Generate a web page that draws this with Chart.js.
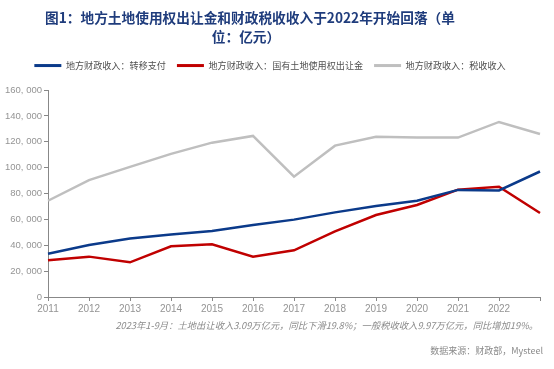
<!DOCTYPE html>
<html>
<head>
<meta charset="utf-8">
<script src="https://cdn.jsdelivr.net/npm/chart.js@4/dist/chart.umd.min.js"></script>
<style>
html,body{margin:0;padding:0;background:#fff;}
#wrap{width:554px;height:369px;position:relative;}
</style>
</head>
<body>
<div id="wrap"><canvas id="c" width="554" height="369"></canvas></div>
<script>
const years = ['2011','2012','2013','2014','2015','2016','2017','2018','2019','2020','2021','2022','2023'];
const tickLabels = ['2011','2012','2013','2014','2015','2016','2017','2018','2019','2020','2021','2022',''];
const transferPay = [33500, 40200, 45300, 48400, 51000, 55600, 59800, 65400, 70300, 74400, 82800, 82400, 97000];
const landSale = [28400, 31200, 26800, 39200, 40700, 31200, 36100, 50700, 63400, 71100, 83000, 85200, 64900];
const taxRevenue = [74400, 90400, 100600, 110600, 119300, 124500, 93000, 117000, 123900, 123200, 123200, 135300, 126000];
const seriesNames = ['地方财政收入：转移支付', '地方财政收入：国有土地使用权出让金', '地方财政收入：税收收入'];
const titleLines = ['图1：地方土地使用权出让金和财政税收收入于2022年开始回落（单', '位：亿元）'];
const noteText = '2023年1-9月：土地出让收入3.09万亿元，同比下滑19.8%；一般税收收入9.97万亿元，同比增加19%。';
const sourceText = '数据来源：财政部，Mysteel';

const CJK = '"Noto Sans CJK SC", "Noto Sans", sans-serif';

const legendFix = {
  id: 'legendFix',
  beforeInit(chart) {
    const lg = chart.legend;
    if (!lg) return;
    const f = lg.fit;
    lg.fit = function () { f.call(this); this.height = 40; };
  }
};

const textPlugin = {
  id: 'textPlugin',
  afterDraw(chart) {
    const ctx = chart.ctx;
    ctx.save();
    ctx.fillStyle = '#1F3C7C';
    ctx.font = 'bold 13.7px ' + CJK;
    ctx.textAlign = 'center';
    ctx.textBaseline = 'middle';
    ctx.fillText(titleLines[0], 250, 18);
    ctx.fillText(titleLines[1], 246, 37);
    ctx.fillStyle = '#8a8a8a';
    ctx.font = 'italic 9.3px ' + CJK;
    ctx.textAlign = 'right';
    ctx.fillText(noteText, 538, 325);
    ctx.font = '9px ' + CJK;
    ctx.fillStyle = '#8a8a8a';
    ctx.fillText(sourceText, 543, 351);
    ctx.restore();
  }
};

const defGen = Chart.defaults.plugins.legend.labels.generateLabels;

new Chart(document.getElementById('c'), {
  type: 'line',
  data: {
    labels: years,
    datasets: [
      { label: seriesNames[0], data: transferPay, borderColor: '#0B3A8A', backgroundColor: '#0B3A8A', borderWidth: 2.5, pointRadius: 0, tension: 0 },
      { label: seriesNames[1], data: landSale, borderColor: '#C00000', backgroundColor: '#C00000', borderWidth: 2.5, pointRadius: 0, tension: 0 },
      { label: seriesNames[2], data: taxRevenue, borderColor: '#BFBFBF', backgroundColor: '#BFBFBF', borderWidth: 2.5, pointRadius: 0, tension: 0 }
    ]
  },
  options: {
    responsive: false,
    animation: false,
    devicePixelRatio: 1,
    layout: { padding: { top: 50, left: 0, right: 14, bottom: 40 } },
    plugins: {
      title: { display: false },
      tooltip: { enabled: false },
      legend: {
        display: true,
        position: 'top',
        labels: {
          boxWidth: 27,
          boxHeight: 3,
          padding: 11,
          color: '#505050',
          font: { size: 9.1, family: CJK },
          generateLabels(chart) {
            return defGen(chart).map(l => Object.assign(l, { lineWidth: 0 }));
          }
        }
      }
    },
    scales: {
      x: {
        offset: false,
        afterFit(s) { s.height = 32; },
        grid: { display: true, drawOnChartArea: false, drawTicks: true, tickLength: 4, color: '#888' },
        border: { display: true, color: '#888', width: 1 },
        ticks: {
          autoSkip: false, maxRotation: 0, padding: 2, color: '#949494',
          font: { size: 10, family: '"Liberation Sans", Arial, sans-serif' },
          callback: (v, i) => tickLabels[i]
        }
      },
      y: {
        min: 0, max: 160000,
        afterFit(s) { s.width = 48; },
        grid: { display: true, drawOnChartArea: false, drawTicks: true, tickLength: 4, color: '#888' },
        border: { display: true, color: '#888', width: 1 },
        ticks: {
          stepSize: 20000, padding: 2, color: '#949494',
          font: { size: 9.5, family: '"Liberation Sans", Arial, sans-serif' },
          callback: v => v === 0 ? '0' : v.toLocaleString('en-US').replace(',', ', ')
        }
      }
    }
  },
  plugins: [legendFix, textPlugin]
});
</script>
</body>
</html>
